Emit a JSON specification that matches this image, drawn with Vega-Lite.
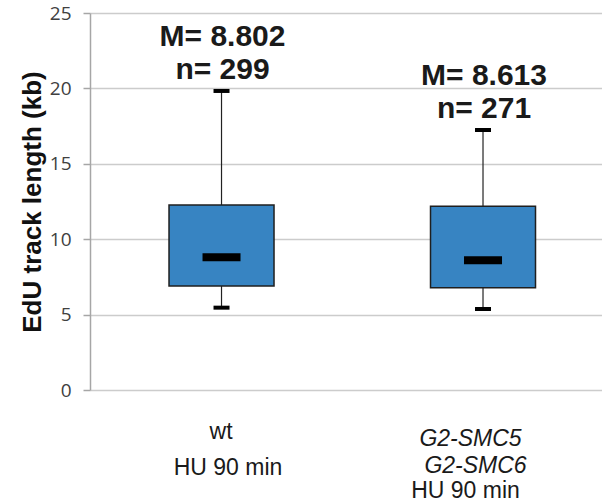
{
  "$schema": "https://vega.github.io/schema/vega-lite/v6.json",
  "width": 512,
  "height": 377,
  "autosize": {"type": "none"},
  "padding": {"left": 90, "top": 13, "right": 0, "bottom": 111},
  "background": "white",
  "config": {"view": {"stroke": null}, "font": "Liberation Sans"},
  "data": {
    "values": [
      {"group": "wt", "lower": 5.46, "q1": 6.9, "median": 8.8, "q3": 12.27, "upper": 19.83, "mean_label": "M= 8.802", "n_label": "n= 299"},
      {"group": "G2-SMC5 G2-SMC6", "lower": 5.37, "q1": 6.78, "median": 8.6, "q3": 12.18, "upper": 17.24, "mean_label": "M= 8.613", "n_label": "n= 271"}
    ]
  },
  "resolve": {"axis": {"x": "independent"}},
  "layer": [
    {
      "mark": {"type": "rule", "color": "#222222", "strokeWidth": 1.2},
      "encoding": {
        "x": {"field": "group", "type": "nominal", "sort": null,
          "scale": {"type": "point", "padding": 0.479, "align": 0.525},
          "axis": {"orient": "bottom", "title": null, "domain": false, "ticks": false, "tickSize": 0, "grid": false, "labelAngle": 0,
            "labelExpr": "datum.value == 'wt' ? 'wt' : 'G2-SMC5'",
            "labelFont": "Liberation Sans", "labelFontSize": 23, "labelColor": "#1a1a1a", "labelBaseline": "alphabetic",
            "labelFontStyle": {"condition": {"test": "datum.value != 'wt'", "value": "italic"}, "value": "normal"},
            "labelPadding": {"condition": {"test": "datum.value == 'wt'", "value": 48}, "value": 55},
            "labelOffset": {"condition": {"test": "datum.value == 'wt'", "value": -1}, "value": -13},
            "labelOverlap": false, "labelBound": false, "labelFlush": false}},
        "y": {"field": "lower", "type": "quantitative",
          "scale": {"domain": [0, 25], "nice": false, "zero": true},
          "axis": {"title": "EdU track length (kb)", "values": [0, 5, 10, 15, 20, 25], "grid": true,
            "gridColor": "#cccccc", "gridWidth": 1.5, "domainColor": "#a6a6a6", "domainWidth": 1.5,
            "tickColor": "#a6a6a6", "tickSize": 7, "tickWidth": 1.5,
            "labelFont": "Open Sans", "labelFontSize": 19, "labelColor": "#404040", "labelPadding": 12,
            "titleFont": "Liberation Sans", "titleFontSize": 26, "titleFontWeight": "bold", "titleColor": "#111111", "titlePadding": 4}},
        "y2": {"field": "upper"}
      }
    },
    {
      "mark": {"type": "bar", "size": 105, "fill": "#3784c2", "stroke": "#1f1f1f", "strokeWidth": 1.5},
      "encoding": {
        "x": {"field": "group", "type": "nominal", "sort": null,
          "axis": {"orient": "bottom", "title": null, "domain": false, "ticks": false, "tickSize": 0, "grid": false, "labelAngle": 0,
            "labelExpr": "datum.value == 'wt' ? 'HU 90 min' : 'G2-SMC6'",
            "labelFont": "Liberation Sans", "labelFontSize": 23, "labelColor": "#1a1a1a", "labelBaseline": "alphabetic",
            "labelFontStyle": {"condition": {"test": "datum.value != 'wt'", "value": "italic"}, "value": "normal"},
            "labelPadding": {"condition": {"test": "datum.value == 'wt'", "value": 84}, "value": 82},
            "labelOffset": {"condition": {"test": "datum.value == 'wt'", "value": 6}, "value": -8},
            "labelOverlap": false, "labelBound": false, "labelFlush": false}},
        "y": {"field": "q1", "type": "quantitative"},
        "y2": {"field": "q3"}
      }
    },
    {
      "mark": {"type": "tick", "color": "#000000", "size": 38, "thickness": 8, "opacity": 1},
      "encoding": {
        "x": {"field": "group", "type": "nominal", "sort": null,
          "axis": {"orient": "bottom", "title": null, "domain": false, "ticks": false, "tickSize": 0, "grid": false, "labelAngle": 0,
            "labelExpr": "datum.value == 'wt' ? '' : 'HU 90 min'",
            "labelFont": "Liberation Sans", "labelFontSize": 23, "labelColor": "#1a1a1a", "labelBaseline": "alphabetic",
            "labelPadding": 107, "labelOffset": -18,
            "labelOverlap": false, "labelBound": false, "labelFlush": false}},
        "y": {"field": "median", "type": "quantitative"}
      }
    },
    {
      "mark": {"type": "tick", "color": "#000000", "size": 16, "thickness": 4, "opacity": 1},
      "encoding": {
        "x": {"field": "group", "type": "nominal", "sort": null, "axis": null},
        "y": {"field": "lower", "type": "quantitative"}
      }
    },
    {
      "mark": {"type": "tick", "color": "#000000", "size": 16, "thickness": 4, "opacity": 1},
      "encoding": {
        "x": {"field": "group", "type": "nominal", "sort": null, "axis": null},
        "y": {"field": "upper", "type": "quantitative"}
      }
    },
    {
      "mark": {"type": "text", "font": "Liberation Sans", "fontSize": 30, "fontWeight": "bold", "color": "#1a1a1a", "align": "center", "baseline": "alphabetic", "dy": -45, "dx": 1},
      "encoding": {
        "x": {"field": "group", "type": "nominal", "sort": null, "axis": null},
        "y": {"field": "upper", "type": "quantitative"},
        "text": {"field": "mean_label"}
      }
    },
    {
      "mark": {"type": "text", "font": "Liberation Sans", "fontSize": 30, "fontWeight": "bold", "color": "#1a1a1a", "align": "center", "baseline": "alphabetic", "dy": -12, "dx": 1},
      "encoding": {
        "x": {"field": "group", "type": "nominal", "sort": null, "axis": null},
        "y": {"field": "upper", "type": "quantitative"},
        "text": {"field": "n_label"}
      }
    }
  ]
}
